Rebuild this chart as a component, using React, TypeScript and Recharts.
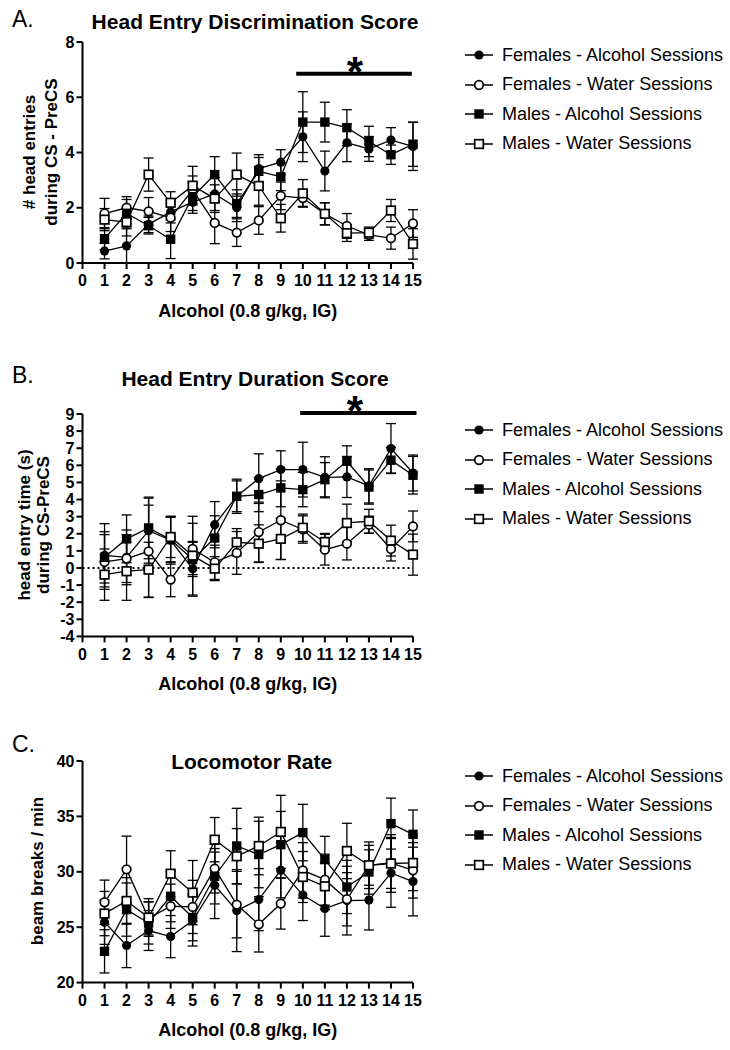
import React from "react";
import {
  ComposedChart,
  Line,
  XAxis,
  YAxis,
  ErrorBar,
  ReferenceLine,
  ReferenceDot,
} from "recharts";

const FONT = '"Liberation Sans", Arial, Helvetica, sans-serif';

// ---------- shared categories ----------
const sessions = [1, 2, 3, 4, 5, 6, 7, 8, 9, 10, 11, 12, 13, 14, 15];
const xTicks = [0, 1, 2, 3, 4, 5, 6, 7, 8, 9, 10, 11, 12, 13, 14, 15];
const seriesNames = [
  "Females - Alcohol Sessions",
  "Females - Water Sessions",
  "Males - Alcohol Sessions",
  "Males - Water Sessions",
];
const xTitle = "Alcohol (0.8 g/kg, IG)";

// ---------- Panel A: Head Entry Discrimination Score ----------
const aFemAlc = [0.43, 0.62, 1.4, 1.85, 2.2, 2.5, 2.0, 3.42, 3.65, 4.57, 3.33, 4.35, 4.13, 4.45, 4.22];
const aFemAlcErr = [0.28, 0.62, 0.3, 0.4, 0.4, 0.6, 0.5, 0.5, 0.45, 0.9, 0.72, 0.68, 0.45, 0.45, 0.87];
const aFemWat = [1.79, 2.0, 1.87, 1.64, 2.65, 1.45, 1.1, 1.54, 2.43, 2.35, 1.78, 1.34, 1.02, 0.9, 1.43];
const aFemWatErr = [0.55, 0.4, 0.5, 0.5, 0.5, 0.75, 0.5, 0.5, 0.5, 0.3, 0.4, 0.45, 0.2, 0.4, 0.5];
const aMalAlc = [0.88, 1.8, 1.35, 0.86, 2.4, 3.2, 2.15, 3.32, 3.12, 5.1, 5.1, 4.9, 4.4, 3.92, 4.3];
const aMalAlcErr = [0.4, 0.5, 0.3, 0.7, 0.5, 0.65, 0.5, 0.5, 0.5, 1.1, 0.72, 0.65, 0.55, 0.35, 0.8];
const aMalWat = [1.57, 1.48, 3.2, 2.18, 2.8, 2.33, 3.2, 2.79, 1.62, 2.52, 1.78, 1.08, 1.1, 1.9, 0.69];
const aMalWatErr = [0.4, 0.5, 0.6, 0.4, 0.7, 0.5, 0.78, 0.7, 0.5, 0.5, 0.4, 0.3, 0.2, 0.4, 0.55];
const aYTicks = [0, 2, 4, 6, 8];
const aSig = { x1: 9.7, x2: 14.95, y: 6.85, starX: 12.37, starY: 6.95 };

// ---------- Panel B: Head Entry Duration Score ----------
const bFemAlc = [0.74, 0.62, 2.18, 1.62, -0.05, 2.53, 4.19, 5.22, 5.75, 5.75, 5.3, 5.32, 4.8, 6.98, 5.55];
const bFemAlcErr = [1.85, 1.6, 1.9, 1.4, 1.6, 1.35, 1.0, 1.45, 1.1, 1.6, 1.2, 1.2, 1.0, 1.46, 1.05];
const bFemWat = [0.35, 0.55, 0.97, -0.68, 1.11, 0.33, 0.88, 2.1, 2.79, 2.25, 1.07, 1.42, 2.53, 1.11, 2.43];
const bFemWatErr = [1.6, 1.4, 2.7, 1.0, 1.5, 1.0, 1.25, 1.75, 2.3, 0.8, 0.9, 0.95, 0.5, 0.7, 0.9];
const bMalAlc = [0.62, 1.7, 2.34, 1.66, 0.5, 1.75, 4.19, 4.29, 4.68, 4.58, 5.16, 6.24, 4.73, 6.3, 5.42];
const bMalAlcErr = [1.5, 1.4, 1.8, 1.3, 1.0, 1.3, 0.9, 1.0, 1.1, 1.0, 1.0, 0.9, 1.0, 0.75, 1.1];
const bMalWat = [-0.39, -0.19, -0.1, 1.81, 0.72, -0.04, 1.5, 1.42, 1.7, 2.35, 1.52, 2.63, 2.73, 1.6, 0.78];
const bMalWatErr = [1.5, 1.7, 1.6, 1.2, 2.3, 0.7, 0.8, 1.1, 1.2, 0.8, 0.5, 1.1, 0.7, 0.9, 1.2];
const bYTicks = [-4, -3, -2, -1, 0, 1, 2, 3, 4, 5, 6, 7, 8, 9];
const bSig = { x1: 9.88, x2: 15.16, y: 9.06, starX: 12.37, starY: 9.2 };

// ---------- Panel C: Locomotor Rate ----------
const cFemAlc = [25.45, 23.35, 24.7, 24.15, 25.6, 28.78, 26.5, 27.49, 30.15, 27.9, 26.68, 27.4, 27.45, 29.9, 29.12];
const cFemAlcErr = [2.0, 2.0, 1.8, 1.9, 2.3, 3.0, 3.7, 2.8, 2.5, 2.3, 2.5, 3.1, 2.7, 3.1, 3.1];
const cFemWat = [27.25, 30.22, 25.8, 26.89, 26.83, 30.29, 27.04, 25.26, 27.13, 30.13, 29.29, 27.52, 30.59, 30.8, 30.13];
const cFemWatErr = [2.0, 3.0, 1.5, 2.0, 2.4, 2.2, 3.0, 2.5, 2.3, 2.5, 2.3, 2.4, 1.8, 2.3, 2.5];
const cMalAlc = [22.82, 26.59, 25.38, 27.79, 25.87, 29.6, 32.33, 31.56, 32.45, 33.54, 31.1, 28.63, 29.98, 34.35, 33.38];
const cMalAlcErr = [1.95, 2.4, 1.9, 2.3, 2.1, 2.5, 3.4, 3.0, 3.0, 2.55, 2.1, 2.4, 2.0, 2.3, 2.2];
const cMalWat = [26.23, 27.37, 25.87, 29.83, 28.12, 32.9, 31.4, 32.33, 33.6, 29.53, 28.69, 31.88, 30.59, 30.75, 30.8];
const cMalWatErr = [2.0, 2.1, 1.7, 2.07, 2.9, 2.0, 2.5, 2.6, 3.3, 2.3, 2.1, 2.5, 2.1, 2.6, 2.5];
const cYTicks = [20, 25, 30, 35, 40];

type Kind = "fc" | "oc" | "fs" | "os";
const kinds: Kind[] = ["fc", "oc", "fs", "os"];
const keys = ["fa", "fw", "ma", "mw"];

function buildRows(vals: number[][], errs: number[][]) {
  return sessions.map((s, i) => {
    const row: Record<string, number> = { session: s };
    keys.forEach((k, j) => {
      row[k] = vals[j][i];
      row[k + "E"] = errs[j][i];
    });
    return row;
  });
}

const dataA = buildRows([aFemAlc, aFemWat, aMalAlc, aMalWat], [aFemAlcErr, aFemWatErr, aMalAlcErr, aMalWatErr]);
const dataB = buildRows([bFemAlc, bFemWat, bMalAlc, bMalWat], [bFemAlcErr, bFemWatErr, bMalAlcErr, bMalWatErr]);
const dataC = buildRows([cFemAlc, cFemWat, cMalAlc, cMalWat], [cFemAlcErr, cFemWatErr, cMalAlcErr, cMalWatErr]);

function Marker({ kind, cx, cy }: { kind: Kind; cx: number; cy: number }) {
  if (kind === "fc") return <circle cx={cx} cy={cy} r={4.6} fill="#000" />;
  if (kind === "oc")
    return <circle cx={cx} cy={cy} r={4.3} fill="#fff" stroke="#000" strokeWidth={1.7} />;
  if (kind === "fs") return <rect x={cx - 4.7} y={cy - 4.7} width={9.4} height={9.4} fill="#000" />;
  return (
    <rect x={cx - 4.3} y={cy - 4.3} width={8.6} height={8.6} fill="#fff" stroke="#000" strokeWidth={1.7} />
  );
}

const dotFor = (kind: Kind) => (p: any) =>
  p.cx == null || p.cy == null ? (
    <g key={`${kind}-n-${p.index}`} />
  ) : (
    <Marker key={`${kind}-${p.index}`} kind={kind} cx={p.cx} cy={p.cy} />
  );

const PLOT_LEFT = 82.5;
const PLOT_RIGHT = 413;
const Y_AXIS_W = 40;

const tickStyle = { fill: "#000", fontSize: 16, fontWeight: 700, fontFamily: FONT };

function Panel({
  data,
  plotTop,
  plotBottom,
  yDomain,
  yTicks,
  sig,
  zeroLine,
}: {
  data: any[];
  plotTop: number;
  plotBottom: number;
  yDomain: [number, number];
  yTicks: number[];
  sig?: { x1: number; x2: number; y: number; starX: number; starY: number };
  zeroLine?: boolean;
}) {
  const top = plotTop - 30;
  const height = plotBottom - top + 40;
  return (
    <div style={{ position: "absolute", left: 0, top, width: 730, height }}>
      <ComposedChart
        width={730}
        height={height}
        data={data}
        margin={{ top: 30, right: 730 - PLOT_RIGHT, bottom: 0, left: PLOT_LEFT - Y_AXIS_W }}
      >
        <XAxis
          type="number"
          dataKey="session"
          domain={[0, 15]}
          ticks={xTicks}
          interval={0}
          height={40}
          tick={tickStyle}
          tickSize={6}
          tickMargin={6}
          axisLine={{ stroke: "#000", strokeWidth: 2 }}
          tickLine={{ stroke: "#000", strokeWidth: 2 }}
        />
        <YAxis
          type="number"
          domain={yDomain}
          ticks={yTicks}
          interval={0}
          width={Y_AXIS_W}
          tick={tickStyle}
          tickSize={6}
          tickMargin={2}
          axisLine={{ stroke: "#000", strokeWidth: 2 }}
          tickLine={{ stroke: "#000", strokeWidth: 2 }}
        />
        {zeroLine && (
          <ReferenceLine y={0} stroke="#000" strokeWidth={2} strokeDasharray="2 3" />
        )}
        {sig && (
          <ReferenceLine
            segment={[
              { x: sig.x1, y: sig.y },
              { x: sig.x2, y: sig.y },
            ]}
            stroke="#000"
            strokeWidth={4}
            ifOverflow="visible"
          />
        )}
        {sig && (
          <ReferenceDot
            x={sig.starX}
            y={sig.starY}
            r={0}
            fill="none"
            stroke="none"
            ifOverflow="visible"
            label={{
              value: "*",
              position: "center",
              fill: "#000",
              fontSize: 42,
              fontWeight: 700,
              fontFamily: FONT,
            }}
          />
        )}
        {keys.map((k, j) => (
          <Line
            key={k}
            dataKey={k}
            type="linear"
            stroke="#000"
            strokeWidth={1.3}
            isAnimationActive={false}
            dot={dotFor(kinds[j])}
            activeDot={false}
          >
            <ErrorBar dataKey={k + "E"} direction="y" width={5} stroke="#000" strokeWidth={1.3} />
          </Line>
        ))}
      </ComposedChart>
    </div>
  );
}

function CenterText({
  cx,
  cy,
  text,
  size,
  weight = 700,
}: {
  cx: number;
  cy: number;
  text: string;
  size: number;
  weight?: number;
}) {
  return (
    <div
      style={{
        position: "absolute",
        left: cx,
        top: cy,
        transform: "translate(-50%, -50%)",
        fontFamily: FONT,
        fontSize: size,
        fontWeight: weight,
        lineHeight: 1,
        whiteSpace: "nowrap",
        color: "#000",
      }}
    >
      {text}
    </div>
  );
}

function RotLabel({
  cx,
  cy,
  lines,
  lh = 20,
}: {
  cx: number;
  cy: number;
  lines: string[];
  lh?: number;
}) {
  return (
    <div
      style={{
        position: "absolute",
        left: cx,
        top: cy,
        transform: "translate(-50%, -50%) rotate(-90deg)",
        fontFamily: FONT,
        fontWeight: 700,
        fontSize: 17,
        lineHeight: `${lh}px`,
        textAlign: "center",
        whiteSpace: "nowrap",
        color: "#000",
      }}
    >
      {lines.map((l, i) => (
        <div key={i}>{l}</div>
      ))}
    </div>
  );
}

function LegendBox({ top }: { top: number }) {
  return (
    <div style={{ position: "absolute", left: 463, top: 0, fontFamily: FONT, fontSize: 18 }}>
      {kinds.map((k, i) => (
        <div
          key={k}
          style={{
            position: "absolute",
            left: 0,
            top: top + i * 29.6 - 10,
            height: 20,
            display: "flex",
            alignItems: "center",
            whiteSpace: "nowrap",
            color: "#000",
          }}
        >
          <svg width={32} height={20} style={{ display: "block" }}>
            <line x1={2} y1={10} x2={30} y2={10} stroke="#000" strokeWidth={1.5} />
            <Marker kind={k} cx={16} cy={10} />
          </svg>
          <span style={{ marginLeft: 7 }}>{seriesNames[i]}</span>
        </div>
      ))}
    </div>
  );
}

export default function App() {
  return (
    <div
      style={{
        position: "absolute",
        left: 0,
        top: 0,
        width: 730,
        height: 1050,
        background: "#fff",
        overflow: "hidden",
      }}
    >
      {/* Panel A */}
      <div style={{ position: "absolute", left: 12, top: 8, fontFamily: FONT, fontSize: 23, lineHeight: 1 }}>A.</div>
      <CenterText cx={255} cy={21} text="Head Entry Discrimination Score" size={21} />
      <RotLabel cx={41} cy={152} lines={["# head entries", "during CS - PreCS"]} lh={22} />
      <CenterText cx={247.7} cy={311} text={xTitle} size={18} />
      <Panel data={dataA} plotTop={42} plotBottom={263} yDomain={[0, 8]} yTicks={aYTicks} sig={aSig} />
      <LegendBox top={55} />

      {/* Panel B */}
      <div style={{ position: "absolute", left: 12, top: 364, fontFamily: FONT, fontSize: 23, lineHeight: 1 }}>B.</div>
      <CenterText cx={255} cy={378} text="Head Entry Duration Score" size={21} />
      <RotLabel cx={34} cy={525} lines={["head entry time (s)", "during CS-PreCS"]} lh={19} />
      <CenterText cx={247.7} cy={684} text={xTitle} size={18} />
      <Panel
        data={dataB}
        plotTop={414.3}
        plotBottom={636.7}
        yDomain={[-4, 9]}
        yTicks={bYTicks}
        sig={bSig}
        zeroLine
      />
      <LegendBox top={430} />

      {/* Panel C */}
      <div style={{ position: "absolute", left: 12, top: 733, fontFamily: FONT, fontSize: 23, lineHeight: 1 }}>C.</div>
      <CenterText cx={251.7} cy={761} text="Locomotor Rate" size={21} />
      <RotLabel cx={38} cy={871} lines={["beam breaks / min"]} />
      <CenterText cx={247.7} cy={1030} text={xTitle} size={18} />
      <Panel data={dataC} plotTop={760.7} plotBottom={982.3} yDomain={[20, 40]} yTicks={cYTicks} />
      <LegendBox top={776} />
    </div>
  );
}
